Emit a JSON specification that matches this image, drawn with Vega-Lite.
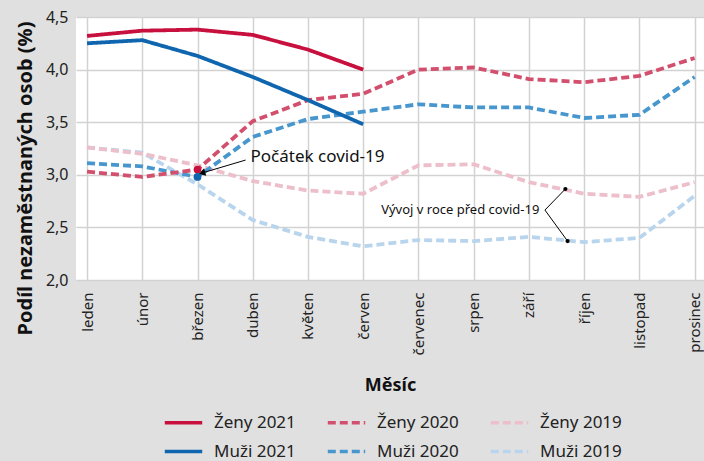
{
  "$schema": "https://vega.github.io/schema/vega-lite/v6.json",
  "width": 628,
  "height": 263,
  "autosize": "none",
  "padding": {"left": 76, "top": 17, "right": 0, "bottom": 181},
  "background": "#e0e0e0",
  "config": {
    "font": "Noto Sans",
    "view": {"fill": "white", "stroke": null},
    "axis": {"gridColor": "#d2d2d2", "gridWidth": 1.5, "domain": false, "ticks": false, "labelColor": "#222", "titleColor": "#111", "labelFont": "Noto Sans", "titleFont": "Noto Sans"},
    "legend": {"labelFont": "Noto Sans", "labelColor": "#222"}
  },
  "datasets": {
    "main": [
      {"serie": "Muži 2019", "m": 0, "v": 3.26}, {"serie": "Muži 2019", "m": 1, "v": 3.21}, {"serie": "Muži 2019", "m": 2, "v": 2.91}, {"serie": "Muži 2019", "m": 3, "v": 2.57}, {"serie": "Muži 2019", "m": 4, "v": 2.41}, {"serie": "Muži 2019", "m": 5, "v": 2.32}, {"serie": "Muži 2019", "m": 6, "v": 2.38}, {"serie": "Muži 2019", "m": 7, "v": 2.37}, {"serie": "Muži 2019", "m": 8, "v": 2.41}, {"serie": "Muži 2019", "m": 9, "v": 2.36}, {"serie": "Muži 2019", "m": 10, "v": 2.4}, {"serie": "Muži 2019", "m": 11, "v": 2.8},
      {"serie": "Ženy 2019", "m": 0, "v": 3.26}, {"serie": "Ženy 2019", "m": 1, "v": 3.2}, {"serie": "Ženy 2019", "m": 2, "v": 3.09}, {"serie": "Ženy 2019", "m": 3, "v": 2.94}, {"serie": "Ženy 2019", "m": 4, "v": 2.85}, {"serie": "Ženy 2019", "m": 5, "v": 2.82}, {"serie": "Ženy 2019", "m": 6, "v": 3.09}, {"serie": "Ženy 2019", "m": 7, "v": 3.1}, {"serie": "Ženy 2019", "m": 8, "v": 2.93}, {"serie": "Ženy 2019", "m": 9, "v": 2.82}, {"serie": "Ženy 2019", "m": 10, "v": 2.79}, {"serie": "Ženy 2019", "m": 11, "v": 2.93},
      {"serie": "Muži 2020", "m": 0, "v": 3.11}, {"serie": "Muži 2020", "m": 1, "v": 3.08}, {"serie": "Muži 2020", "m": 2, "v": 2.98}, {"serie": "Muži 2020", "m": 3, "v": 3.36}, {"serie": "Muži 2020", "m": 4, "v": 3.53}, {"serie": "Muži 2020", "m": 5, "v": 3.6}, {"serie": "Muži 2020", "m": 6, "v": 3.67}, {"serie": "Muži 2020", "m": 7, "v": 3.64}, {"serie": "Muži 2020", "m": 8, "v": 3.64}, {"serie": "Muži 2020", "m": 9, "v": 3.54}, {"serie": "Muži 2020", "m": 10, "v": 3.57}, {"serie": "Muži 2020", "m": 11, "v": 3.93},
      {"serie": "Ženy 2020", "m": 0, "v": 3.03}, {"serie": "Ženy 2020", "m": 1, "v": 2.98}, {"serie": "Ženy 2020", "m": 2, "v": 3.05}, {"serie": "Ženy 2020", "m": 3, "v": 3.51}, {"serie": "Ženy 2020", "m": 4, "v": 3.71}, {"serie": "Ženy 2020", "m": 5, "v": 3.77}, {"serie": "Ženy 2020", "m": 6, "v": 4.0}, {"serie": "Ženy 2020", "m": 7, "v": 4.02}, {"serie": "Ženy 2020", "m": 8, "v": 3.91}, {"serie": "Ženy 2020", "m": 9, "v": 3.88}, {"serie": "Ženy 2020", "m": 10, "v": 3.94}, {"serie": "Ženy 2020", "m": 11, "v": 4.11},
      {"serie": "Muži 2021", "m": 0, "v": 4.25}, {"serie": "Muži 2021", "m": 1, "v": 4.28}, {"serie": "Muži 2021", "m": 2, "v": 4.13}, {"serie": "Muži 2021", "m": 3, "v": 3.93}, {"serie": "Muži 2021", "m": 4, "v": 3.71}, {"serie": "Muži 2021", "m": 5, "v": 3.48},
      {"serie": "Ženy 2021", "m": 0, "v": 4.32}, {"serie": "Ženy 2021", "m": 1, "v": 4.37}, {"serie": "Ženy 2021", "m": 2, "v": 4.38}, {"serie": "Ženy 2021", "m": 3, "v": 4.33}, {"serie": "Ženy 2021", "m": 4, "v": 4.19}, {"serie": "Ženy 2021", "m": 5, "v": 4.0}
    ],
    "labels": [
      {"t": "Počátek covid-19", "x": 2.96, "y": 3.17, "size": "big"},
      {"t": "Vývoj v roce před covid-19", "x": 8.19, "y": 2.665, "size": "small"}
    ],
    "arrow": [
      {"x": 2.87, "y": 3.14, "x2": 2.1, "y2": 3.02}
    ],
    "bracket": [
      {"x": 8.29, "y": 2.665, "x2": 8.66, "y2": 2.865},
      {"x": 8.29, "y": 2.665, "x2": 8.7, "y2": 2.37}
    ]
  },
  "encoding": {
    "x": {"type": "quantitative"},
    "y": {"type": "quantitative"}
  },
  "layer": [
    {
      "data": {"name": "main"},
      "mark": {"type": "line", "interpolate": "linear", "strokeCap": "butt", "strokeJoin": "round"},
      "encoding": {
        "x": {"field": "m", "type": "quantitative",
          "scale": {"domain": [-0.2, 11.17], "nice": false, "zero": false},
          "axis": {"values": [0,1,2,3,4,5,6,7,8,9,10,11], "labelExpr": "['leden','únor','březen','duben','květen','červen','červenec','srpen','září','říjen','listopad','prosinec'][datum.value]", "labelAngle": -90, "labelAlign": "right", "labelBaseline": "middle", "labelFontSize": 15, "labelPadding": 12, "title": "Měsíc", "titleFontSize": 18, "titleFontWeight": "bold", "titlePadding": 22}},
        "y": {"field": "v", "type": "quantitative",
          "scale": {"domain": [2, 4.5], "nice": false, "zero": false},
          "axis": {"values": [2, 2.5, 3, 3.5, 4, 4.5], "labelExpr": "replace(format(datum.value, '.1f'), '.', ',')", "labelFontSize": 16, "labelPadding": 8, "title": "Podíl nezaměstnaných osob (%)", "titleFontSize": 20, "titleFontWeight": "bold", "titleY": 161, "titlePadding": 10}},
        "color": {"field": "serie", "type": "nominal",
          "scale": {"domain": ["Ženy 2021", "Ženy 2020", "Ženy 2019", "Muži 2021", "Muži 2020", "Muži 2019"],
                    "range": ["#c8103e", "#d2506d", "#ecbfca", "#1066ae", "#4796cd", "#b8d5ed"]},
          "legend": {"title": null, "orient": "none", "direction": "horizontal", "legendX": 87, "legendY": 385, "columns": 3, "symbolType": "stroke", "symbolSize": 1400, "symbolStrokeWidth": 3.5, "labelFontSize": 17, "columnPadding": 24, "rowPadding": -22, "labelOffset": 10}},
        "strokeDash": {"field": "serie", "type": "nominal",
          "scale": {"domain": ["Ženy 2021", "Ženy 2020", "Ženy 2019", "Muži 2021", "Muži 2020", "Muži 2019"],
                    "range": [[1, 0], [8, 4], [8, 4], [1, 0], [8, 4], [8, 4]]}},
        "strokeWidth": {"value": 3.8}
      }
    },
    {
      "data": {"name": "arrow"},
      "mark": {"type": "rule", "color": "black", "strokeWidth": 1},
      "encoding": {
        "x": {"field": "x", "type": "quantitative"}, "y": {"field": "y", "type": "quantitative"},
        "x2": {"field": "x2"}, "y2": {"field": "y2"}
      }
    },
    {
      "data": {"name": "arrow"},
      "mark": {"type": "point", "shape": "triangle", "filled": true, "color": "black", "opacity": 1, "size": 60, "angle": 254},
      "encoding": {
        "x": {"field": "x2", "type": "quantitative"}, "y": {"field": "y2", "type": "quantitative"}
      }
    },
    {
      "data": {"name": "main"},
      "transform": [{"filter": "datum.serie == 'Ženy 2020' && datum.m == 2"}],
      "mark": {"type": "circle", "color": "#c8103e", "opacity": 1, "size": 60},
      "encoding": {
        "x": {"field": "m", "type": "quantitative"}, "y": {"field": "v", "type": "quantitative"}
      }
    },
    {
      "data": {"name": "main"},
      "transform": [{"filter": "datum.serie == 'Muži 2020' && datum.m == 2"}],
      "mark": {"type": "circle", "color": "#1066ae", "opacity": 1, "size": 60},
      "encoding": {
        "x": {"field": "m", "type": "quantitative"}, "y": {"field": "v", "type": "quantitative"}
      }
    },
    {
      "data": {"name": "bracket"},
      "mark": {"type": "rule", "color": "black", "strokeWidth": 1},
      "encoding": {
        "x": {"field": "x", "type": "quantitative"}, "y": {"field": "y", "type": "quantitative"},
        "x2": {"field": "x2"}, "y2": {"field": "y2"}
      }
    },
    {
      "data": {"name": "bracket"},
      "mark": {"type": "circle", "color": "black", "opacity": 1, "size": 18},
      "encoding": {
        "x": {"field": "x2", "type": "quantitative"}, "y": {"field": "y2", "type": "quantitative"}
      }
    },
    {
      "data": {"name": "labels"},
      "transform": [{"filter": "datum.size == 'big'"}],
      "mark": {"type": "text", "align": "left", "baseline": "middle", "fontSize": 17, "color": "#111"},
      "encoding": {
        "x": {"field": "x", "type": "quantitative"}, "y": {"field": "y", "type": "quantitative"},
        "text": {"field": "t"}
      }
    },
    {
      "data": {"name": "labels"},
      "transform": [{"filter": "datum.size == 'small'"}],
      "mark": {"type": "text", "align": "right", "baseline": "middle", "fontSize": 13, "color": "#111"},
      "encoding": {
        "x": {"field": "x", "type": "quantitative"}, "y": {"field": "y", "type": "quantitative"},
        "text": {"field": "t"}
      }
    }
  ]
}
